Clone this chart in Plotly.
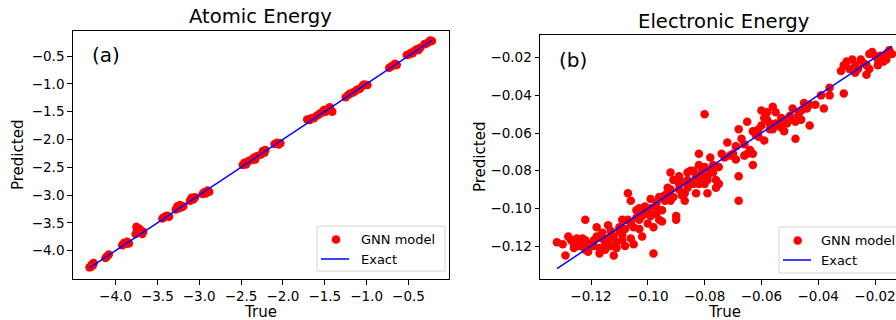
import plotly.graph_objects as go

# ---------------- data ----------------
atomic_true = [-4.31, -4.29, -4.28, -4.27, -4.26,
               -4.12, -4.10, -4.08,
               -3.92, -3.90, -3.88, -3.86, -3.84,
               -3.76, -3.75, -3.74, -3.72, -3.71, -3.70, -3.68, -3.67,
               -3.44, -3.42, -3.40, -3.38, -3.36,
               -3.28, -3.26, -3.25, -3.23, -3.21, -3.19,
               -3.11, -3.09, -3.07, -3.05,
               -2.96, -2.94, -2.92, -2.90, -2.88,
               -2.48, -2.46, -2.44, -2.42, -2.40, -2.37, -2.35, -2.33, -2.31,
               -2.26, -2.24, -2.22, -2.21,
               -2.10, -2.07, -2.05, -2.03,
               -1.71, -1.68, -1.66, -1.63, -1.60, -1.57, -1.55, -1.53, -1.51, -1.49,
               -1.46, -1.44, -1.41,
               -1.25, -1.22, -1.20, -1.17, -1.14, -1.11, -1.08, -1.05, -1.03, -0.99,
               -0.73, -0.70, -0.68, -0.66, -0.64,
               -0.52, -0.49, -0.47, -0.45, -0.43, -0.40, -0.38, -0.36,
               -0.31, -0.29, -0.27, -0.25, -0.24, -0.22]
atomic_pred = [-4.30, -4.29, -4.24, -4.26, -4.22,
               -4.13, -4.10, -4.07,
               -3.90, -3.86, -3.88, -3.84, -3.87,
               -3.70, -3.57, -3.62, -3.60, -3.66, -3.63, -3.70, -3.66,
               -3.42, -3.40, -3.38, -3.37, -3.39,
               -3.26, -3.20, -3.24, -3.18, -3.22, -3.20,
               -3.10, -3.05, -3.08, -3.04,
               -2.98, -2.95, -2.97, -2.92, -2.94,
               -2.46, -2.42, -2.45, -2.40, -2.38, -2.37, -2.33, -2.36, -2.30,
               -2.27, -2.21, -2.24, -2.19,
               -2.08, -2.06, -2.09, -2.07,
               -1.64, -1.65, -1.62, -1.62, -1.58, -1.55, -1.53, -1.51, -1.47, -1.50,
               -1.45, -1.42, -1.50,
               -1.24, -1.20, -1.18, -1.16, -1.14, -1.10, -1.09, -1.04, -1.01, -1.02,
               -0.71, -0.68, -0.67, -0.64, -0.66,
               -0.48, -0.47, -0.44, -0.45, -0.41, -0.38, -0.39, -0.35,
               -0.29, -0.28, -0.26, -0.24, -0.22, -0.23]

elec_true = [-0.132, -0.130, -0.129, -0.128, -0.127, -0.126, -0.125, -0.124, -0.124, -0.123,
             -0.122, -0.122, -0.122, -0.121, -0.120, -0.119, -0.118, -0.117, -0.117, -0.116,
             -0.116, -0.115, -0.114, -0.114, -0.113, -0.113, -0.112, -0.112, -0.111, -0.110,
             -0.110, -0.109, -0.109, -0.108, -0.107, -0.107, -0.106, -0.106, -0.105, -0.105,
             -0.104, -0.103, -0.103, -0.102, -0.102, -0.101, -0.100, -0.100, -0.099, -0.099,
             -0.098, -0.098, -0.097, -0.097, -0.096, -0.096, -0.095, -0.095, -0.094, -0.093,
             -0.093, -0.092, -0.092, -0.091, -0.090, -0.090, -0.089, -0.089, -0.088, -0.087,
             -0.087, -0.086, -0.086, -0.085, -0.084, -0.083, -0.083, -0.082, -0.082, -0.082,
             -0.081, -0.080, -0.080, -0.080, -0.079, -0.079, -0.078, -0.077, -0.077, -0.076,
             -0.076, -0.075, -0.075, -0.074, -0.073, -0.072, -0.070, -0.069, -0.069, -0.068,
             -0.068, -0.068, -0.067, -0.066, -0.065, -0.065, -0.064, -0.063, -0.063, -0.063,
             -0.062, -0.061, -0.060, -0.060, -0.059, -0.059, -0.058, -0.058, -0.057, -0.056,
             -0.056, -0.055, -0.055, -0.053, -0.053, -0.052, -0.052, -0.051, -0.049, -0.049,
             -0.048, -0.048, -0.047, -0.046, -0.046, -0.045, -0.043, -0.043, -0.041, -0.039,
             -0.038, -0.036, -0.036, -0.031, -0.032, -0.031, -0.030, -0.029, -0.028, -0.027,
             -0.026, -0.025, -0.024, -0.023, -0.022, -0.022, -0.021, -0.019, -0.019, -0.018,
             -0.017, -0.016, -0.016, -0.015, -0.014,
             -0.126, -0.123, -0.121, -0.119, -0.118, -0.115, -0.113, -0.111, -0.109, -0.108,
             -0.106, -0.104, -0.103, -0.101, -0.099, -0.097, -0.094, -0.092, -0.091, -0.089,
             -0.088, -0.086, -0.084, -0.081, -0.079, -0.078, -0.071, -0.066, -0.061, -0.057,
             -0.054, -0.050, -0.044, -0.027, -0.023, -0.020]
elec_pred = [-0.118, -0.119, -0.125, -0.115, -0.117, -0.119, -0.116, -0.119, -0.120, -0.118,
             -0.122, -0.106, -0.117, -0.123, -0.119, -0.117, -0.110, -0.124, -0.121, -0.116,
             -0.113, -0.122, -0.109, -0.117, -0.112, -0.120, -0.125, -0.115, -0.121, -0.110,
             -0.112, -0.106, -0.114, -0.120, -0.106, -0.092, -0.096, -0.116, -0.119, -0.110,
             -0.101, -0.106, -0.111, -0.104, -0.115, -0.099, -0.108, -0.103, -0.095, -0.104,
             -0.110, -0.124, -0.099, -0.103, -0.106, -0.094, -0.101, -0.107, -0.096, -0.089,
             -0.092, -0.096, -0.081, -0.085, -0.104, -0.106, -0.083, -0.090, -0.086, -0.092,
             -0.096, -0.089, -0.081, -0.080, -0.080, -0.083, -0.092, -0.087, -0.071, -0.077,
             -0.083, -0.087, -0.078, -0.050, -0.083, -0.092, -0.073, -0.077, -0.081, -0.085,
             -0.089, -0.078, -0.087, -0.071, -0.073, -0.065, -0.071, -0.074, -0.067, -0.083,
             -0.096, -0.058, -0.063, -0.072, -0.071, -0.054, -0.069, -0.059, -0.077, -0.071,
             -0.061, -0.058, -0.056, -0.048, -0.052, -0.064, -0.049, -0.053, -0.058, -0.046,
             -0.058, -0.049, -0.055, -0.052, -0.057, -0.059, -0.053, -0.055, -0.047, -0.053,
             -0.063, -0.054, -0.050, -0.048, -0.053, -0.044, -0.045, -0.056, -0.045, -0.040,
             -0.047, -0.036, -0.040, -0.039, -0.027, -0.024, -0.022, -0.026, -0.021, -0.024,
             -0.026, -0.021, -0.023, -0.029, -0.026, -0.018, -0.017, -0.021, -0.024, -0.019,
             -0.022, -0.018, -0.021, -0.016, -0.018,
             -0.121, -0.116, -0.119, -0.120, -0.115, -0.118, -0.115, -0.118, -0.117, -0.111,
             -0.108, -0.105, -0.100, -0.103, -0.100, -0.097, -0.093, -0.090, -0.094, -0.087,
             -0.093, -0.085, -0.087, -0.080, -0.085, -0.080, -0.072, -0.066, -0.062, -0.055,
             -0.056, -0.051, -0.047, -0.028, -0.024, -0.019]

titles = ["Atomic Energy", "Electronic Energy"]
panel_tags = ["(a)", "(b)"]
atomic_ticks = [-4.0, -3.5, -3.0, -2.5, -2.0, -1.5, -1.0, -0.5]
atomic_tick_labels = ["\u22124.0", "\u22123.5", "\u22123.0", "\u22122.5",
                      "\u22122.0", "\u22121.5", "\u22121.0", "\u22120.5"]
elec_ticks = [-0.12, -0.10, -0.08, -0.06, -0.04, -0.02]
elec_tick_labels = ["\u22120.12", "\u22120.10", "\u22120.08", "\u22120.06", "\u22120.04", "\u22120.02"]
series_names = ["GNN model", "Exact"]
axis_labels = ["True", "Predicted"]

# ---------------- figure ----------------
W, H = 896, 320
FONT = "DejaVu Sans"


def px(x):
    return x / W


def py(y):
    return 1 - y / H


fig = go.Figure()

fig.add_trace(go.Scatter(x=atomic_true, y=atomic_pred, mode="markers", name=series_names[0],
                         marker=dict(color="#ff0000", size=8.5, line=dict(width=0)),
                         xaxis="x", yaxis="y"))
fig.add_trace(go.Scatter(x=[min(atomic_true), max(atomic_true)], y=[min(atomic_true), max(atomic_true)],
                         mode="lines", name=series_names[1], line=dict(color="#0000ff", width=1.5),
                         xaxis="x", yaxis="y"))
fig.add_trace(go.Scatter(x=elec_true, y=elec_pred, mode="markers", name=series_names[0],
                         marker=dict(color="#ff0000", size=8.5, line=dict(width=0)),
                         xaxis="x2", yaxis="y2"))
fig.add_trace(go.Scatter(x=[min(elec_true), max(elec_true)], y=[min(elec_true), max(elec_true)],
                         mode="lines", name=series_names[1], line=dict(color="#0000ff", width=1.5),
                         xaxis="x2", yaxis="y2"))

axis_common = dict(showgrid=False, zeroline=False, showline=True, linecolor="black", linewidth=1,
                   ticks="outside", ticklen=4.5, tickwidth=1, tickcolor="black",
                   tickfont=dict(family=FONT, size=13.5, color="black"))

fig.update_layout(
    width=W, height=H,
    margin=dict(l=0, r=0, t=0, b=0, autoexpand=False),
    paper_bgcolor="white", plot_bgcolor="white",
    font=dict(family=FONT, color="black"),
    showlegend=False,
    xaxis=dict(domain=[px(72.7), px(449)], range=[-4.511, -0.016], mirror=True,
               tickvals=atomic_ticks, ticktext=atomic_tick_labels, anchor="y", **axis_common),
    yaxis=dict(domain=[py(279), py(30.7)], range=[-4.509, -0.045], mirror=True,
               tickvals=atomic_ticks, ticktext=atomic_tick_labels, anchor="x", **axis_common),
    xaxis2=dict(domain=[px(540), 1.0], range=[-0.13796, -0.01261], mirror=True,
                tickvals=elec_ticks, ticktext=elec_tick_labels, anchor="y2", **axis_common),
    yaxis2=dict(domain=[py(279.3), py(35.3)], range=[-0.13768, -0.00810], mirror=False,
                tickvals=elec_ticks, ticktext=elec_tick_labels, anchor="x2", **axis_common),
)

ann = []
# titles
ann.append(dict(text=titles[0], x=px(260.9), y=py(17), xref="paper", yref="paper",
                showarrow=False, xanchor="center", yanchor="middle",
                font=dict(family=FONT, size=19.6, color="black")))
ann.append(dict(text=titles[1], x=px(724), y=py(22), xref="paper", yref="paper",
                showarrow=False, xanchor="center", yanchor="middle",
                font=dict(family=FONT, size=19.6, color="black")))
# panel tags
ann.append(dict(text=panel_tags[0], x=px(90), y=py(55), xref="paper", yref="paper",
                showarrow=False, xanchor="left", yanchor="middle",
                font=dict(family=FONT, size=20, color="black")))
ann.append(dict(text=panel_tags[1], x=px(557), y=py(60), xref="paper", yref="paper",
                showarrow=False, xanchor="left", yanchor="middle",
                font=dict(family=FONT, size=20, color="black")))
# axis titles
for cx in (260.9, 724):
    ann.append(dict(text=axis_labels[0], x=px(cx), y=0, xref="paper", yref="paper",
                    showarrow=False, xanchor="center", yanchor="bottom", borderpad=0, yshift=-2,
                    font=dict(family=FONT, size=15, color="black")))
for cx, cy in ((18, 155), (480, 157)):
    ann.append(dict(text=axis_labels[1], x=px(cx), y=py(cy), xref="paper", yref="paper",
                    showarrow=False, xanchor="center", yanchor="middle", textangle=-90,
                    font=dict(family=FONT, size=15, color="black")))

# legends drawn as boxes with a marker swatch, a line swatch and text labels
legend_boxes = [
    dict(x0=317, x1=445, y0=226, y1=271, mx=336, lx0=321, lx1=349, tx=360),
    dict(x0=779, x1=930, y0=227, y1=273, mx=797.7, lx0=783, lx1=811, tx=819.5),
]
shapes = []
for lb in legend_boxes:
    ym = lb["y0"] + 13.5
    yl = lb["y0"] + 33
    shapes.append(dict(type="rect", xref="paper", yref="paper", x0=px(lb["x0"]), x1=px(lb["x1"]),
                       y0=py(lb["y1"]), y1=py(lb["y0"]), line=dict(color="#d4d4d4", width=1),
                       fillcolor="rgba(255,255,255,0.8)", layer="above"))
    shapes.append(dict(type="circle", xref="paper", yref="paper",
                       x0=px(lb["mx"] - 4.25), x1=px(lb["mx"] + 4.25),
                       y0=py(ym + 4.25), y1=py(ym - 4.25), line=dict(width=0),
                       fillcolor="#ff0000", layer="above"))
    shapes.append(dict(type="line", xref="paper", yref="paper", x0=px(lb["lx0"]), x1=px(lb["lx1"]),
                       y0=py(yl), y1=py(yl), line=dict(color="#0000ff", width=1.5), layer="above"))
    ann.append(dict(text=series_names[0], x=px(lb["tx"]), y=py(ym), xref="paper", yref="paper",
                    showarrow=False, xanchor="left", yanchor="middle", borderpad=0,
                    font=dict(family=FONT, size=13, color="black")))
    ann.append(dict(text=series_names[1], x=px(lb["tx"]), y=py(yl), xref="paper", yref="paper",
                    showarrow=False, xanchor="left", yanchor="middle", borderpad=0,
                    font=dict(family=FONT, size=13, color="black")))

fig.update_layout(annotations=ann, shapes=shapes)

fig.write_html("out.html", config={"displayModeBar": False},
               post_script="document.body.style.margin='0';document.body.style.padding='0';"
                           "document.body.style.overflow='hidden';"
                           "document.documentElement.style.overflow='hidden';")
